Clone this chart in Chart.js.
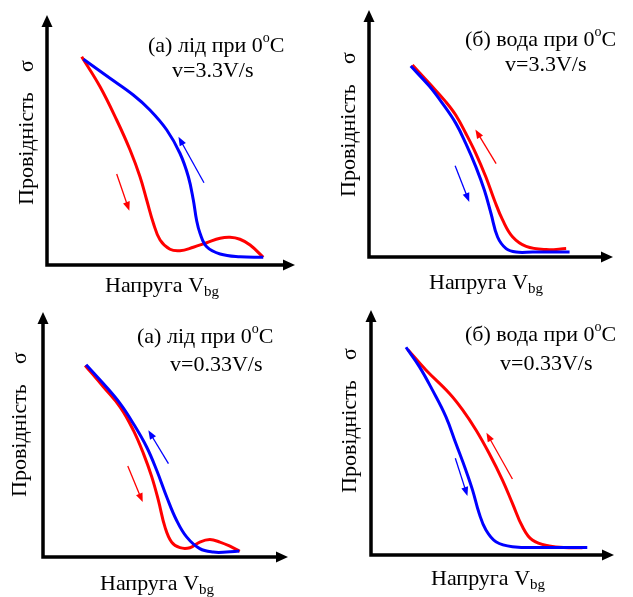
<!DOCTYPE html>
<html lang="uk">
<head>
<meta charset="UTF-8">
<title>Провідність</title>
<script src="https://cdn.jsdelivr.net/npm/chart.js"></script>
<style>
    body { margin: 0; background: #fff; }
    .panel { position: absolute; }
</style>
</head>
<body>
<canvas class="panel" id="p1" width="316" height="300" style="left:0;top:0"></canvas>
<canvas class="panel" id="p2" width="317" height="300" style="left:316px;top:0"></canvas>
<canvas class="panel" id="p3" width="316" height="297" style="left:0;top:300px"></canvas>
<canvas class="panel" id="p4" width="317" height="297" style="left:316px;top:300px"></canvas>
<script>
// values, both axes in arbitrary units 0..100

// (а) лід, 3.3 V/s
const iceFastRedV  = [14.0, 21.4, 28.1, 33.5, 37.5, 40.2, 42.9, 45.6, 49.6, 53.6, 59.0, 64.4, 69.8, 73.8, 77.8, 81.9, 87.2];
const iceFastRedS  = [83.3, 71.3, 58.0, 46.0, 35.3, 26.0, 16.7, 10.0, 6.3, 5.7, 7.1, 8.9, 10.7, 11.1, 10.3, 8.0, 3.1];
const iceFastBlueV = [14.7, 25.4, 34.8, 41.5, 48.3, 53.6, 57.0, 59.0, 60.3, 61.7, 64.4, 69.8, 77.8, 87.2];
const iceFastBlueS = [82.3, 74.7, 68.0, 62.0, 54.0, 44.7, 35.3, 26.0, 18.0, 12.7, 7.3, 4.4, 3.3, 3.1];
const iceFastRedArrow  = [28.1, 36.4, 33.2, 21.7];
const iceFastBlueArrow = [63.3, 32.9, 53.0, 51.3];

// (б) вода, 3.3 V/s
const waterFastRedV  = [17.8, 24.7, 31.5, 35.6, 39.7, 43.8, 47.9, 51.4, 54.8, 58.9, 64.4, 72.6, 80.8];
const waterFastRedS  = [77.7, 70.3, 62.8, 57.4, 50.0, 41.9, 32.4, 23.0, 14.9, 8.1, 4.3, 3.0, 3.4];
const waterFastBlueV = [17.1, 24.7, 30.1, 35.6, 39.7, 43.8, 47.3, 50.0, 52.7, 56.2, 60.3, 67.1, 82.2];
const waterFastBlueS = [77.3, 69.2, 62.2, 54.1, 45.9, 36.5, 27.0, 17.6, 8.1, 3.4, 2.0, 2.0, 2.0];
const waterFastRedArrow  = [52.1, 37.8, 43.6, 51.6];
const waterFastBlueArrow = [35.3, 36.9, 41.1, 22.3];

// (а) лід, 0.33 V/s
const iceSlowRedV  = [17.2, 24.7, 31.5, 36.9, 41.0, 44.4, 47.1, 49.8, 52.5, 55.9, 60.0, 64.0, 68.1, 72.2, 76.3, 80.3];
const iceSlowRedS  = [78.2, 69.4, 61.2, 51.7, 42.2, 32.7, 23.1, 12.2, 6.1, 3.8, 3.8, 6.1, 7.1, 6.1, 4.4, 2.3];
const iceSlowBlueV = [17.6, 24.7, 31.5, 36.9, 42.3, 46.4, 50.5, 54.5, 58.6, 64.0, 69.5, 74.9, 80.1];
const iceSlowBlueS = [78.5, 70.7, 62.6, 54.4, 44.9, 35.4, 24.5, 15.0, 8.2, 3.4, 2.0, 2.0, 2.4];
const iceSlowRedArrow  = [34.6, 37.1, 40.7, 22.4];
const iceSlowBlueArrow = [51.2, 38.1, 43.0, 51.7];

// (б) вода, 0.33 V/s
const waterSlowRedV  = [15.1, 22.6, 32.2, 37.7, 43.2, 48.6, 54.1, 58.2, 62.3, 66.4, 73.3, 81.5, 87.0];
const waterSlowRedS  = [83.9, 75.5, 66.0, 59.2, 51.0, 41.5, 30.6, 21.1, 11.6, 6.1, 3.7, 3.0, 3.0];
const waterSlowBlueV = [14.4, 19.9, 25.3, 30.8, 34.9, 39.0, 41.8, 44.5, 47.3, 51.4, 58.2, 73.3, 89.0];
const waterSlowBlueS = [84.8, 76.9, 67.3, 56.5, 45.6, 34.7, 26.5, 17.0, 10.2, 5.4, 3.4, 3.1, 3.1];
const waterSlowRedArrow  = [58.2, 31.0, 47.5, 49.9];
const waterSlowBlueArrow = [34.7, 39.5, 39.7, 24.1];

const yTitle = 'Провідність';
const xTitle = 'Напруга V';
const xTitleSub = 'bg';
const noteIce = '(а) лід при 0';
const noteWater = '(б) вода при 0';
const rateFast = 'v=3.3V/s';
const rateSlow = 'v=0.33V/s';

const RED = '#ff0000';
const BLUE = '#0000ff';
const FONT = '"Liberation Serif", "DejaVu Serif", serif';

function pts(xs, ys) {
    return xs.map((x, i) => ({ x: x, y: ys[i] }));
}

function richText(ctx, x, y, parts) {
    let cx = x;
    parts.forEach(p => {
        ctx.font = p.size + 'px ' + FONT;
        ctx.fillText(p.t, cx, y + (p.dy || 0));
        cx += ctx.measureText(p.t).width;
    });
}

function arrowLine(ctx, x1, y1, x2, y2, color, w, head, half) {
    const a = Math.atan2(y2 - y1, x2 - x1);
    ctx.strokeStyle = color;
    ctx.fillStyle = color;
    ctx.lineWidth = w;
    ctx.beginPath();
    ctx.moveTo(x1, y1);
    ctx.lineTo(x2 - Math.cos(a) * head * 0.8, y2 - Math.sin(a) * head * 0.8);
    ctx.stroke();
    ctx.beginPath();
    ctx.moveTo(x2, y2);
    ctx.lineTo(x2 - Math.cos(a) * head - Math.sin(a) * half, y2 - Math.sin(a) * head + Math.cos(a) * half);
    ctx.lineTo(x2 - Math.cos(a) * head + Math.sin(a) * half, y2 - Math.sin(a) * head - Math.cos(a) * half);
    ctx.closePath();
    ctx.fill();
}

// axes with arrow tips, small direction arrows and all the text
const decor = {
    id: 'decor',
    afterDatasetsDraw(chart, args, o) {
        const ctx = chart.ctx;
        const a = chart.chartArea;
        const sx = chart.scales.x, sy = chart.scales.y;
        ctx.save();

        // axes
        ctx.strokeStyle = '#000';
        ctx.fillStyle = '#000';
        ctx.lineWidth = 3.5;
        ctx.beginPath();
        ctx.moveTo(a.left, a.top + 8);
        ctx.lineTo(a.left, a.bottom);
        ctx.lineTo(a.right - 8, a.bottom);
        ctx.stroke();
        ctx.beginPath();
        ctx.moveTo(a.left, a.top);
        ctx.lineTo(a.left - 5.5, a.top + 12);
        ctx.lineTo(a.left + 5.5, a.top + 12);
        ctx.closePath();
        ctx.fill();
        ctx.beginPath();
        ctx.moveTo(a.right, a.bottom);
        ctx.lineTo(a.right - 12, a.bottom - 5.5);
        ctx.lineTo(a.right - 12, a.bottom + 5.5);
        ctx.closePath();
        ctx.fill();

        // direction arrows
        [[o.redArrow, RED], [o.blueArrow, BLUE]].forEach(([ar, col]) => {
            arrowLine(ctx,
                sx.getPixelForValue(ar[0]), sy.getPixelForValue(ar[1]),
                sx.getPixelForValue(ar[2]), sy.getPixelForValue(ar[3]),
                col, 1.3, 9, 3.5);
        });

        // texts
        ctx.fillStyle = '#000';
        ctx.textBaseline = 'alphabetic';
        ctx.textAlign = 'left';
        richText(ctx, o.note1[0], o.note1[1], [
            { t: o.note, size: 22 },
            { t: 'o', size: 14, dy: -10 },
            { t: 'C', size: 22 }
        ]);
        richText(ctx, o.note2[0], o.note2[1], [{ t: o.rate, size: 22 }]);
        richText(ctx, o.xt[0], o.xt[1], [
            { t: xTitle, size: 22 },
            { t: xTitleSub, size: 15, dy: 4 }
        ]);

        ctx.save();
        ctx.translate(o.yt[0], o.yt[1]);
        ctx.rotate(-Math.PI / 2);
        ctx.font = '22px ' + FONT;
        ctx.fillText(yTitle, 0, 0);
        const w = ctx.measureText(yTitle).width;
        ctx.fillText('σ', w + 20, 0);
        ctx.restore();

        ctx.restore();
    }
};

function makePanel(id, red, blue, pad, o) {
    new Chart(document.getElementById(id), {
        type: 'line',
        data: {
            datasets: [
                { data: blue, borderColor: BLUE },
                { data: red, borderColor: RED }
            ]
        },
        options: {
            responsive: false,
            animation: false,
            devicePixelRatio: 1,
            layout: { padding: pad },
            elements: {
                line: { borderWidth: 3, tension: 0.4, fill: false },
                point: { radius: 0 }
            },
            scales: {
                x: { type: 'linear', min: 0, max: 100, display: false },
                y: { type: 'linear', min: 0, max: 100, display: false }
            },
            plugins: {
                legend: { display: false },
                tooltip: { enabled: false },
                decor: o
            }
        },
        plugins: [decor]
    });
}

makePanel('p1', pts(iceFastRedV, iceFastRedS), pts(iceFastBlueV, iceFastBlueS),
    { left: 47, top: 15, right: 21, bottom: 35 },
    { redArrow: iceFastRedArrow, blueArrow: iceFastBlueArrow, note: noteIce, rate: rateFast,
      note1: [148, 52], note2: [172, 77], xt: [105, 292], yt: [33, 205] });

makePanel('p2', pts(waterFastRedV, waterFastRedS), pts(waterFastBlueV, waterFastBlueS),
    { left: 53, top: 10, right: 20, bottom: 43 },
    { redArrow: waterFastRedArrow, blueArrow: waterFastBlueArrow, note: noteWater, rate: rateFast,
      note1: [149, 46], note2: [189, 71], xt: [113, 289], yt: [39, 197] });

makePanel('p3', pts(iceSlowRedV, iceSlowRedS), pts(iceSlowBlueV, iceSlowBlueS),
    { left: 43, top: 12, right: 28, bottom: 40 },
    { redArrow: iceSlowRedArrow, blueArrow: iceSlowBlueArrow, note: noteIce, rate: rateSlow,
      note1: [137, 43], note2: [170, 71], xt: [100, 290], yt: [26, 197] });

makePanel('p4', pts(waterSlowRedV, waterSlowRedS), pts(waterSlowBlueV, waterSlowBlueS),
    { left: 55, top: 10, right: 19, bottom: 42 },
    { redArrow: waterSlowRedArrow, blueArrow: waterSlowBlueArrow, note: noteWater, rate: rateSlow,
      note1: [149, 41], note2: [184, 70], xt: [115, 285], yt: [40, 193] });
</script>
</body>
</html>
